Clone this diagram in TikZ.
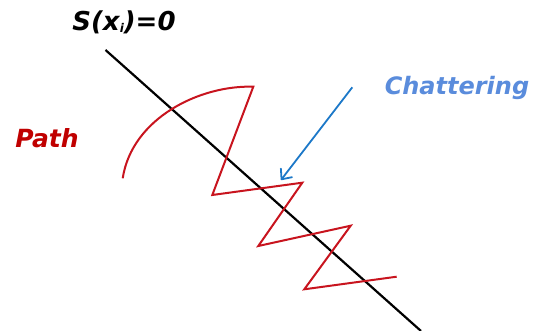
\documentclass[tikz,border=0pt]{standalone}
\usepackage{fontspec}
\setmainfont{DejaVu Sans}
\usetikzlibrary{arrows.meta}
\definecolor{pathred}{HTML}{C8141E}
\definecolor{labred}{HTML}{C00000}
\definecolor{arrowblue}{HTML}{1C78C8}
\definecolor{labblue}{HTML}{5A8CDC}
\begin{document}
\begin{tikzpicture}[x=1pt,y=-1pt,
  lbl/.style={inner sep=0pt,font=\bfseries\itshape},
  redpath/.style={draw=pathred,line width=2pt,line join=miter},
  surface/.style={draw=black,line width=2.2pt},
  pointer/.style={draw=arrowblue,line width=1.8pt,-{Straight Barb[length=8pt,width=14pt,round]}}]
\useasboundingbox (0,0) rectangle (550,331);
\node[lbl,text=black,font=\fontsize{26}{30}\selectfont\bfseries\itshape] (s) at (124,22) {S(x\raisebox{-0.2ex}{\fontsize{12}{13}\selectfont i})=0};
\node[lbl,text=labblue,font=\fontsize{24}{28}\selectfont\bfseries\itshape] (ch) at (457,88) {Chattering};
\node[lbl,text=labred,font=\fontsize{25}{29}\selectfont\bfseries\itshape] (path) at (47,138) {Path};
\coordinate (l0) at (105.5,50);
\coordinate (l1) at (421,331);
\draw[surface] (l0) -- (l1);
\coordinate (p0) at (122.7,178.3);
\coordinate (p1) at (253.3,86.7);
\coordinate (p2) at (212.3,195);
\coordinate (p3) at (302.3,182.7);
\coordinate (p4) at (258.3,246);
\coordinate (p5) at (350.7,225.7);
\coordinate (p6) at (304.3,289.3);
\coordinate (p7) at (396.7,276.7);
\draw[redpath] (p0) .. controls (132,118) and (200,85) .. (p1) -- (p2) -- (p3) -- (p4) -- (p5) -- (p6) -- (p7);
\coordinate (a0) at (352.3,87.3);
\coordinate (a1) at (281,180);
\draw[pointer] (a0) -- (a1);
\end{tikzpicture}
\end{document}
